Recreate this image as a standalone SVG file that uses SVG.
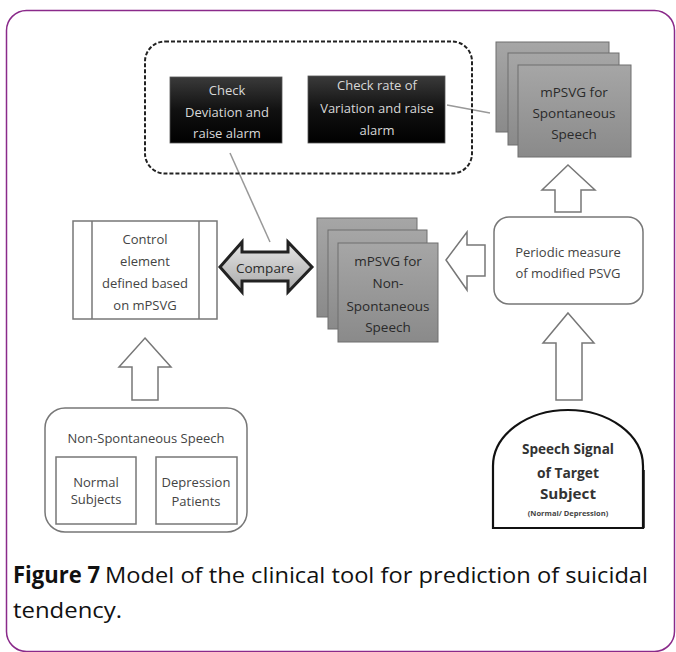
<svg xmlns="http://www.w3.org/2000/svg" width="676" height="652" viewBox="0 0 676 652">
<defs>
<linearGradient id="gBlack" x1="0" y1="0" x2="0" y2="1"><stop offset="0" stop-color="#3a3a3a"/><stop offset="0.5" stop-color="#111"/><stop offset="1" stop-color="#000"/></linearGradient>
<linearGradient id="gSheet" x1="0" y1="0" x2="0" y2="1"><stop offset="0" stop-color="#a6a6a6"/><stop offset="1" stop-color="#8a8a8a"/></linearGradient>
<linearGradient id="gCmp" x1="0" y1="0" x2="0" y2="1"><stop offset="0" stop-color="#e6e6e6"/><stop offset="1" stop-color="#a8a8a8"/></linearGradient>
<style>
text{font-family:"Open Sans","Liberation Sans",sans-serif;text-anchor:middle}
.t{font-size:13px;fill:#444}
.w{font-size:13px;fill:#d8d8d8}
.k{font-size:13.5px;fill:#2a2a2a}
.b{font-size:14px;font-weight:bold;fill:#333}
.sheet{fill:url(#gSheet);stroke:#6e6e6e;stroke-width:1}
.blk{fill:url(#gBlack);stroke:#555;stroke-width:0.8}
.box{fill:#fff;stroke:#777;stroke-width:1.5}
.harrow{fill:#fff;stroke:#777;stroke-width:1.5;stroke-linejoin:miter}
.con{stroke:#999;stroke-width:1.5;fill:none}
.cap{font-size:22.5px;fill:#111;text-anchor:start}
</style>
</defs>
<rect x="0" y="0" width="676" height="652" fill="#fff"/>
<rect x="6.5" y="10.5" width="668" height="641" rx="20" fill="none" stroke="#8a2a8a" stroke-width="1.5"/>

<g id="connectors">
<line class="con" x1="447" y1="105" x2="490" y2="113"/>
<line class="con" x1="230" y1="153" x2="270" y2="242"/>
<polygon class="harrow" points="568,165 595,190 581,190 581,212 555,212 555,190 542,190"/>
<polygon class="harrow" points="446,260 467,232 467,245 485,245 485,276 467,276 467,290"/>
<polygon class="harrow" points="568,313 594,343 582,343 582,400 556,400 556,343 543,343"/>
<polygon class="harrow" points="145,338 171,367 158,367 158,400 132,400 132,367 119,367"/>
<g id="compare">
<polygon points="220,267 242,242 242,252 288,252 288,242 312,267 288,292 288,281 242,281 242,292" fill="url(#gCmp)" stroke="#222" stroke-width="3" stroke-linejoin="miter"/>
<text class="k" x="265" y="273" font-size="13">Compare</text>
</g>
</g>

<g id="checkGroup">
<rect x="145" y="41.5" width="327" height="132" rx="20" fill="none" stroke="#222" stroke-width="2" stroke-dasharray="4 2"/>
</g>
<g id="checkDeviation">
<rect class="blk" x="170" y="77" width="112" height="66"/>
<text class="w" x="227" y="95">Check</text>
<text class="w" x="227" y="117">Deviation and</text>
<text class="w" x="227" y="138">raise alarm</text>
</g>
<g id="checkRate">
<rect class="blk" x="308" y="76" width="137" height="67"/>
<text class="w" x="377" y="90">Check rate of</text>
<text class="w" x="377" y="113">Variation and raise</text>
<text class="w" x="377" y="135">alarm</text>
</g>

<g id="spontStack">
<rect class="sheet" x="496" y="42" width="113" height="90"/>
<rect class="sheet" x="508" y="53" width="111" height="92"/>
<rect class="sheet" x="518" y="65" width="113" height="92"/>
<text class="k" x="574" y="97">mPSVG for</text>
<text class="k" x="574" y="118">Spontaneous</text>
<text class="k" x="574" y="139">Speech</text>
</g>

<g id="controlElement">
<rect class="box" x="73" y="221" width="144" height="98"/>
<line x1="92" y1="221" x2="92" y2="319" stroke="#777" stroke-width="1.5"/>
<line x1="199" y1="221" x2="199" y2="319" stroke="#777" stroke-width="1.5"/>
<text class="t" x="145" y="244">Control</text>
<text class="t" x="145" y="266">element</text>
<text class="t" x="145" y="288">defined based</text>
<text class="t" x="145" y="310">on mPSVG</text>
</g>

<g id="nonSpontStack">
<rect class="sheet" x="317" y="218" width="100" height="99"/>
<rect class="sheet" x="328" y="230" width="99" height="99"/>
<rect class="sheet" x="338" y="243" width="100" height="99"/>
<text class="k" x="388" y="266">mPSVG for</text>
<text class="k" x="388" y="288">Non-</text>
<text class="k" x="388" y="311">Spontaneous</text>
<text class="k" x="388" y="332">Speech</text>
</g>

<g id="periodic">
<rect class="box" x="494" y="217" width="149" height="87" rx="15"/>
<text class="t" x="568" y="257">Periodic measure</text>
<text class="t" x="568" y="278">of modified PSVG</text>
</g>

<g id="nonSpontSpeech">
<rect class="box" x="45" y="408" width="202" height="124" rx="20"/>
<text class="t" x="146" y="443">Non-Spontaneous Speech</text>
<rect class="box" x="56" y="457" width="80" height="67"/>
<text class="t" x="96" y="487" font-size="11">Normal</text>
<text class="t" x="96" y="504" font-size="11">Subjects</text>
<rect class="box" x="156" y="457" width="81" height="67"/>
<text class="t" x="196" y="487">Depression</text>
<text class="t" x="196" y="506">Patients</text>
</g>

<g id="speechSignal">
<path d="M493,528 L493,466 A75,56 0 0 1 643,466 L643,528 Z" fill="#fff" stroke="#111" stroke-width="2.2"/>
<line x1="644" y1="470" x2="644" y2="528" stroke="#111" stroke-width="1.5"/>
<text class="b" x="568" y="454" font-size="15" textLength="92" lengthAdjust="spacingAndGlyphs">Speech Signal</text>
<text class="b" x="568" y="478" font-size="15" textLength="62" lengthAdjust="spacingAndGlyphs">of Target</text>
<text class="b" x="568" y="499" font-size="15" textLength="56" lengthAdjust="spacingAndGlyphs">Subject</text>
<text x="568" y="516" font-size="7.5" fill="#444" font-weight="bold">(Normal/ Depression)</text>
</g>

<g id="caption">
<text class="cap" x="13" y="583" font-weight="bold" textLength="87" lengthAdjust="spacingAndGlyphs">Figure 7</text>
<text class="cap" x="105" y="583" textLength="543" lengthAdjust="spacingAndGlyphs">Model of the clinical tool for prediction of suicidal</text>
<text class="cap" x="13" y="618" textLength="109" lengthAdjust="spacingAndGlyphs">tendency.</text>
</g>
</svg>
